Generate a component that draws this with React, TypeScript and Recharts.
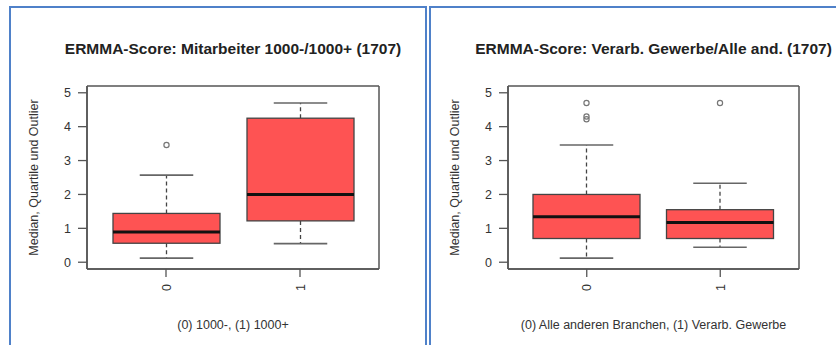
import React from 'react';
import { ComposedChart, Bar, XAxis, YAxis, CartesianGrid } from 'recharts';

// panel A: Mitarbeiter 1000-/1000+
const CATS_A = ['0', '1'];
const LOW_A = [0.12, 0.55];
const Q1_A = [0.56, 1.22];
const MED_A = [0.89, 2.0];
const Q3_A = [1.44, 4.25];
const HIGH_A = [2.57, 4.7];
const OUT_A = [[3.46], []];

// panel B: Verarb. Gewerbe / Alle anderen
const CATS_B = ['0', '1'];
const LOW_B = [0.12, 0.44];
const Q1_B = [0.7, 0.7];
const MED_B = [1.34, 1.17];
const Q3_B = [2.0, 1.55];
const HIGH_B = [3.46, 2.33];
const OUT_B = [[4.7, 4.3, 4.22], [4.7]];

const Y_TICKS = [0, 1, 2, 3, 4, 5];
const Y_DOMAIN: [number, number] = [-0.2, 5.2];

const FILL = '#fe5353';
const FRAME = '#555';
const TEXT = '#333';
const FONT = '"Liberation Sans", Arial, sans-serif';

function build(cats: string[], low: number[], q1: number[], med: number[], q3: number[], high: number[], out: number[][]) {
  return cats.map((name, i) => ({
    name,
    low: low[i],
    q1: q1[i],
    med: med[i],
    q3: q3[i],
    high: high[i],
    out: out[i],
  }));
}

// draws a full R-style box from the range bar [q1, q3]; the y mapping comes from the bar's own pixels
function BoxShape(props: any) {
  const { x, y, width, height, payload } = props;
  const { low, q1, med, q3, high, out } = payload;
  const top = Math.min(y, y + height);
  const ppu = Math.abs(height) / (q3 - q1);
  const py = (v: number) => top + (q3 - v) * ppu;
  const cx = x + width / 2;
  const cap = width / 4;
  return (
    <g>
      <line x1={cx} x2={cx} y1={py(q3)} y2={py(high)} stroke="#444" strokeWidth={1.3} strokeDasharray="4 3" />
      <line x1={cx} x2={cx} y1={py(q1)} y2={py(low)} stroke="#444" strokeWidth={1.3} strokeDasharray="4 3" />
      <line x1={cx - cap} x2={cx + cap} y1={py(high)} y2={py(high)} stroke="#666" strokeWidth={1.6} />
      <line x1={cx - cap} x2={cx + cap} y1={py(low)} y2={py(low)} stroke="#666" strokeWidth={1.6} />
      <rect x={x} y={top} width={width} height={Math.abs(height)} fill={FILL} stroke="#444" strokeWidth={1.3} />
      <line x1={x} x2={x + width} y1={py(med)} y2={py(med)} stroke="#111" strokeWidth={3} />
      {out.map((v: number, k: number) => (
        <circle key={k} cx={cx} cy={py(v)} r={2.6} fill="none" stroke="#777" strokeWidth={1.2} />
      ))}
    </g>
  );
}

function RotTick(props: any) {
  const { x, y, payload } = props;
  return (
    <text transform={`translate(${x + 4.5},${y}) rotate(-90)`} textAnchor="end" fill={TEXT} fontSize={12.5}>
      {payload.value}
    </text>
  );
}

// grid lines only at the plot edges -> the R box() frame
const frameH = (p: any) => [p.offset.top, p.offset.top + p.offset.height];
const frameV = (p: any) => [p.offset.left, p.offset.left + p.offset.width];

interface PanelProps {
  left: number;
  width: number;
  plotLeft: number;
  plotRight: number;
  title: string;
  xTitle: string;
  data: any[];
}

const PLOT_TOP = 86;
const PLOT_BOTTOM = 269;
const H = 345;

function Panel({ left, width, plotLeft, plotRight, title, xTitle, data }: PanelProps) {
  const cx = (plotLeft + plotRight) / 2;
  const cy = (PLOT_TOP + PLOT_BOTTOM) / 2;
  return (
    <div style={{ position: 'absolute', left, top: 0, width, height: H }}>
      <ComposedChart
        width={width}
        height={H}
        data={data}
        margin={{ top: PLOT_TOP, right: width - plotRight, bottom: H - PLOT_BOTTOM - 30, left: plotLeft - 40 }}
      >
        <CartesianGrid
          stroke={FRAME}
          strokeWidth={1.5}
          horizontalCoordinatesGenerator={frameH}
          verticalCoordinatesGenerator={frameV}
        />
        <XAxis
          dataKey="name"
          padding={{ left: 12, right: 12 }}
          height={30}
          axisLine={{ stroke: FRAME, strokeWidth: 1.5 }}
          tickLine={{ stroke: FRAME, strokeWidth: 1.3 }}
          tickSize={8}
          tickMargin={7}
          tick={<RotTick />}
          interval={0}
        />
        <YAxis
          domain={Y_DOMAIN}
          ticks={Y_TICKS}
          allowDataOverflow
          width={40}
          axisLine={{ stroke: FRAME, strokeWidth: 1.5 }}
          tickLine={{ stroke: FRAME, strokeWidth: 1.3 }}
          tickSize={9}
          tickMargin={7}
          tick={{ fill: TEXT, fontSize: 12.5 }}
          interval={0}
        />
        <Bar
          dataKey={(d: any) => [d.q1, d.q3]}
          barSize={107}
          shape={<BoxShape />}
          isAnimationActive={false}
        />
      </ComposedChart>
      <svg width={width} height={H} style={{ position: 'absolute', left: 0, top: 0, pointerEvents: 'none' }}>
        <text x={cx} y={53.5} textAnchor="middle" fontWeight="bold" fontSize={15.5} fill="#222">
          {title}
        </text>
        <text x={cx} y={329} textAnchor="middle" fontSize={12.5} fill={TEXT}>
          {xTitle}
        </text>
        <text
          transform={`translate(${plotLeft - 49},${cy}) rotate(-90)`}
          textAnchor="middle"
          fontSize={12.5}
          fill={TEXT}
        >
          Median, Quartile und Outlier
        </text>
      </svg>
    </div>
  );
}

export default function App() {
  const dataA = build(CATS_A, LOW_A, Q1_A, MED_A, Q3_A, HIGH_A, OUT_A);
  const dataB = build(CATS_B, LOW_B, Q1_B, MED_B, Q3_B, HIGH_B, OUT_B);
  const border = '2px solid #4f81c9';
  return (
    <div
      style={{
        position: 'fixed',
        left: 0,
        top: 0,
        width: 836,
        height: 345,
        background: '#fff',
        overflow: 'hidden',
        fontFamily: FONT,
      }}
    >
      <div style={{ position: 'absolute', left: 9, top: 6, width: 418, height: 360, border, boxSizing: 'border-box' }} />
      <div style={{ position: 'absolute', left: 429, top: 6, width: 430, height: 360, border, boxSizing: 'border-box' }} />
      <Panel
        left={0}
        width={420}
        plotLeft={87}
        plotRight={379}
        title="ERMMA-Score: Mitarbeiter 1000-/1000+ (1707)"
        xTitle="(0) 1000-, (1) 1000+"
        data={dataA}
      />
      <Panel
        left={420}
        width={416}
        plotLeft={88}
        plotRight={379}
        title="ERMMA-Score: Verarb. Gewerbe/Alle and. (1707)"
        xTitle="(0) Alle anderen Branchen, (1) Verarb. Gewerbe"
        data={dataB}
      />
    </div>
  );
}
